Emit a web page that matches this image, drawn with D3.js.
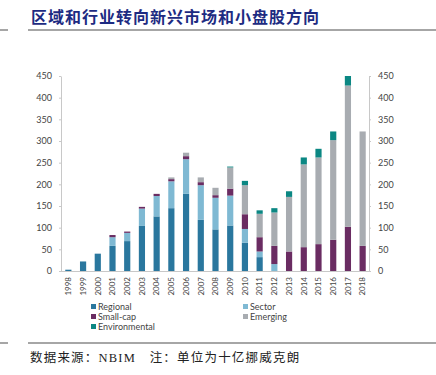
<!DOCTYPE html>
<html>
<head>
<meta charset="utf-8">
<script src="https://d3js.org/d3.v7.min.js"></script>
<style>
  body { margin: 0; background: #fff; }
  svg { display: block; }
</style>
</head>
<body>
<svg width="436" height="375"></svg>
<script>
var years = ['1998', '1999', '2000', '2001', '2002', '2003', '2004', '2005', '2006', '2007', '2008',
    '2009', '2010', '2011', '2012', '2013', '2014', '2015', '2016', '2017', '2018'];
var regional = [3, 22, 40, 58, 69, 104, 126, 145, 178, 118, 96, 105, 65, 32, 0, 0, 0, 0, 0, 0, 0];
var sector = [0, 0, 0, 20, 19, 40, 47, 62, 80, 80, 73, 69, 32, 13, 16, 0, 0, 0, 0, 0, 0];
var smallCap = [0, 0, 0, 5, 3, 4, 5, 5, 7, 7, 6, 16, 34, 33, 42, 45, 55, 62, 72, 102, 58];
var emerging = [0, 0, 0, 0, 0, 0, 0, 4, 8, 11, 17, 49, 67, 54, 77, 126, 191, 200, 230, 326, 264];
var environmental = [0, 0, 0, 0, 0, 0, 0, 0, 0, 0, 0, 2, 10, 8, 10, 13, 16, 20, 20, 22, 0];
var yTicks = [0, 50, 100, 150, 200, 250, 300, 350, 400, 450];

var seriesNames = ['Regional', 'Sector', 'Small-cap', 'Emerging', 'Environmental'];
var seriesColors = ['#2a779e', '#7fb9d3', '#6a2c62', '#a8acb1', '#0b8783'];

var svg = d3.select('svg');

// title + rules
svg.append('text')
    .attr('x', 31).attr('y', 23)
    .style('font-family', '"Noto Sans CJK SC"')
    .style('font-weight', 'bold')
    .style('font-size', '16px')
    .style('letter-spacing', '1px')
    .style('fill', '#1d2b82')
    .text('区域和行业转向新兴市场和小盘股方向');

[30, 343].forEach(function (y) {
    svg.append('line').attr('x1', 0).attr('x2', 8).attr('y1', y).attr('y2', y)
        .style('stroke', '#888').style('stroke-width', 1.5);
    svg.append('line').attr('x1', 28).attr('x2', 436).attr('y1', y).attr('y2', y)
        .style('stroke', '#888').style('stroke-width', 1.5);
});

svg.append('text')
    .attr('x', 30).attr('y', 362)
    .style('font-family', '"Liberation Serif", "Noto Sans CJK SC"')
    .style('font-size', '12.5px')
    .style('letter-spacing', '1.2px')
    .style('fill', '#222')
    .text('数据来源：NBIM　注：单位为十亿挪威克朗');

// chart
var x = d3.scaleBand().domain(years).range([61, 370]).paddingInner(0.58).paddingOuter(0.29);
var y = d3.scaleLinear().domain([0, 450]).range([271, 76]);

var rows = years.map(function (yr, i) {
    return {
        year: yr,
        Regional: regional[i],
        Sector: sector[i],
        'Small-cap': smallCap[i],
        Emerging: emerging[i],
        Environmental: environmental[i]
    };
});
var stacked = d3.stack().keys(seriesNames)(rows);

svg.append('g').selectAll('g')
    .data(stacked)
    .enter().append('g')
    .style('fill', function (d, i) { return seriesColors[i]; })
    .selectAll('rect')
    .data(function (d) { return d; })
    .enter().append('rect')
    .attr('x', function (d) { return x(d.data.year); })
    .attr('width', x.bandwidth())
    .attr('y', function (d) { return y(d[1]); })
    .attr('height', function (d) { return y(d[0]) - y(d[1]); });

var tickStyle = function (g) {
    g.select('.domain').style('stroke', '#c8c8c8');
    g.selectAll('.tick line').style('stroke', '#c8c8c8');
    g.selectAll('.tick text')
        .style('font-family', 'Lato, "Open Sans", sans-serif')
        .style('font-size', '9px')
        .style('fill', '#444');
};

svg.append('g')
    .attr('transform', 'translate(61,0)')
    .call(d3.axisLeft(y).tickValues(yTicks).tickSize(2).tickPadding(7).tickSizeOuter(0))
    .call(tickStyle);

svg.append('g')
    .attr('transform', 'translate(369,0)')
    .call(d3.axisRight(y).tickValues(yTicks).tickSize(2).tickPadding(7).tickSizeOuter(0))
    .call(tickStyle);

var xAxis = svg.append('g')
    .attr('transform', 'translate(0,271)')
    .call(d3.axisBottom(x).tickSize(0).tickPadding(0).tickSizeOuter(0))
    .call(tickStyle);
xAxis.select('.domain').attr('d', 'M61,0.5H370');
xAxis.selectAll('.tick text')
    .style('font-size', '8px')
    .attr('transform', 'rotate(-90)')
    .attr('x', -6).attr('y', 0).attr('dy', '0.35em')
    .style('text-anchor', 'end');

// legend
var legendPos = [[91, 307], [243, 307], [91, 317], [243, 317], [91, 327]];
var legend = svg.append('g').selectAll('g')
    .data(seriesNames)
    .enter().append('g')
    .attr('transform', function (d, i) { return 'translate(' + legendPos[i][0] + ',' + legendPos[i][1] + ')'; });
legend.append('rect')
    .attr('x', 0).attr('y', -3).attr('width', 5).attr('height', 5)
    .style('fill', function (d, i) { return seriesColors[i]; });
legend.append('text')
    .attr('x', 7).attr('y', 0).attr('dy', '0.35em')
    .style('font-family', 'Lato, "Open Sans", sans-serif')
    .style('font-size', '9px')
    .style('fill', '#444')
    .text(function (d) { return d; });
</script>
</body>
</html>
